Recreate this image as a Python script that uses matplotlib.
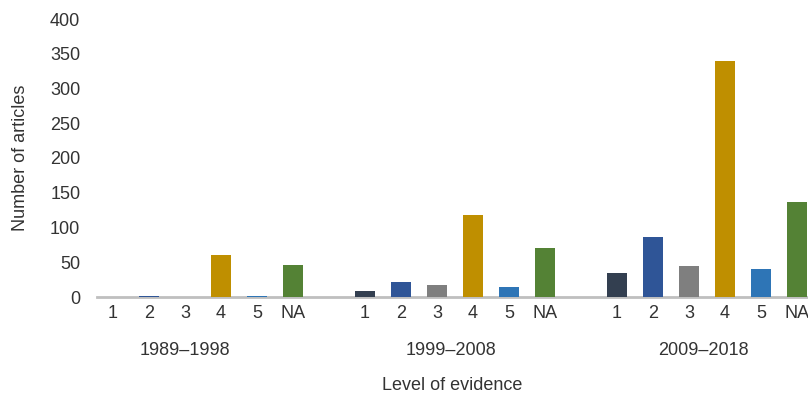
import numpy as np
import matplotlib.pyplot as plt

plt.rcParams['font.family'] = ['Liberation Sans', 'DejaVu Sans']

levels = ['1', '2', '3', '4', '5', 'NA']
periods = ['1989\u20131998', '1999\u20132008', '2009\u20132018']
counts_1989 = [0, 2, 0, 60, 2, 46]
counts_1999 = [9, 21, 17, 118, 15, 71]
counts_2009 = [35, 86, 45, 340, 41, 136]
colors = ['#333f50', '#2f5597', '#7f7f7f', '#bf8f00', '#2e75b6', '#548235']

text_color = '#333333'
fig = plt.figure(figsize=(8.08, 3.93), dpi=100)
ax = fig.add_axes([97 / 808, 1 - 297 / 393, 1 - 97 / 808, (297 - 19) / 393])

ticks = []
ticklabels = []
for g, vals in enumerate([counts_1989, counts_1999, counts_2009]):
    x = np.arange(len(levels)) + g * 7
    ax.bar(x, vals, width=0.55, color=colors, zorder=3)
    ticks.extend(x)
    ticklabels.extend(levels)
    # group label under the level labels
    center = x[0] + 2.0 if g == 0 else x.mean() - 0.1
    ax.text(center, -0.209, periods[g], transform=ax.get_xaxis_transform(),
            ha='center', va='baseline', fontsize=13, color=text_color)

ax.set_xticks(ticks)
ax.set_xticklabels(ticklabels, fontsize=13, color=text_color)
ax.tick_params(axis='x', length=0, pad=6)
ax.set_xlim(-0.444, 19.31)

ax.set_ylim(0, 400)
ax.set_yticks(np.arange(0, 401, 50))
ax.tick_params(axis='y', length=0, pad=12, labelsize=13, labelcolor=text_color)

for side in ['top', 'right', 'left']:
    ax.spines[side].set_visible(False)
ax.spines['bottom'].set_color('#bfbfbf')
ax.spines['bottom'].set_linewidth(2)

ax.text(0.5, -0.333, 'Level of evidence', transform=ax.transAxes,
        ha='center', va='baseline', fontsize=13, color=text_color)
fig.text(21 / 808, 1 - 158 / 393, 'Number of articles', rotation=90,
         ha='center', va='center', fontsize=13, color=text_color)

fig.savefig('out.png', dpi=100)
